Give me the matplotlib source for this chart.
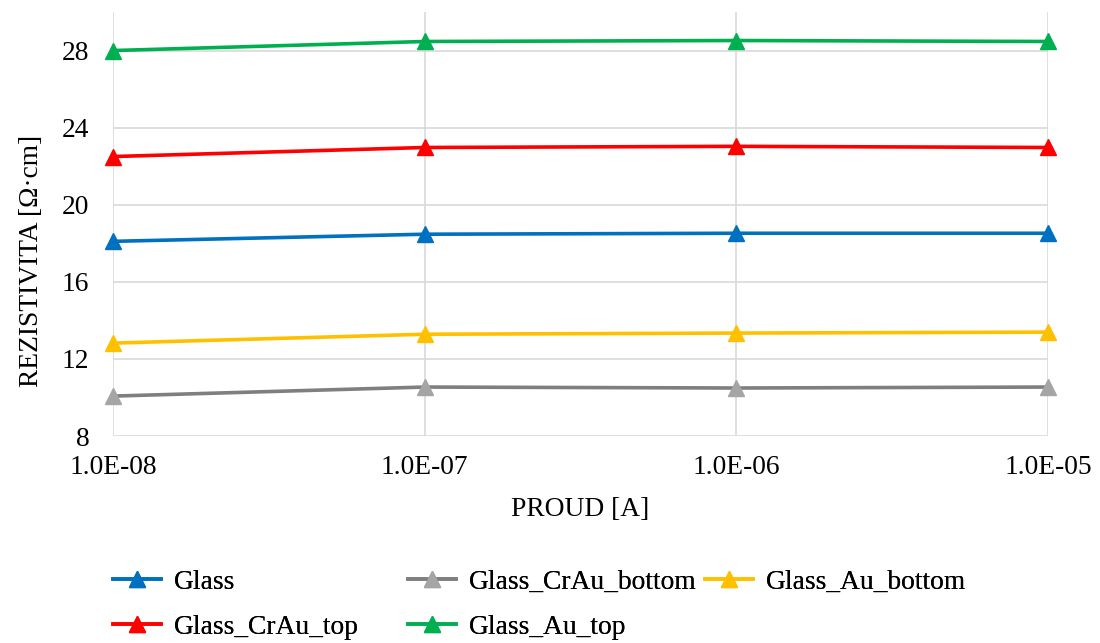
import matplotlib
import matplotlib.pyplot as plt
matplotlib.use('agg')

plt.rcParams['font.family'] = ['Liberation Serif', 'DejaVu Serif']

# measured currents and resistivities
current = [1e-8, 1e-7, 1e-6, 1e-5]
x_labels = ['1.0E-08', '1.0E-07', '1.0E-06', '1.0E-05']

glass = [18.1, 18.47, 18.52, 18.52]
glass_crau_bottom = [10.07, 10.54, 10.49, 10.54]
glass_au_bottom = [12.82, 13.28, 13.34, 13.39]
glass_crau_top = [22.5, 22.97, 23.03, 22.97]
glass_au_top = [28.0, 28.47, 28.52, 28.47]

y_ticks = [8, 12, 16, 20, 24, 28]

series = [
    ('Glass', glass, '#0070c0', '#0070c0'),
    ('Glass_CrAu_bottom', glass_crau_bottom, '#7f7f7f', '#a5a5a5'),
    ('Glass_Au_bottom', glass_au_bottom, '#ffc000', '#ffc000'),
    ('Glass_CrAu_top', glass_crau_top, '#ff0000', '#ff0000'),
    ('Glass_Au_top', glass_au_top, '#00b050', '#00b050'),
]

fs = 19.8
fig = plt.figure(figsize=(11, 6.43), dpi=100)
ax = fig.add_axes([113 / 1100, 1 - 436 / 643, (1048 - 113) / 1100, (436 - 12) / 643])

handles = []
for name, vals, lc, mc in series:
    ln, = ax.plot(current, vals, color=lc, linewidth=2.6, marker='^', markersize=11,
                  markerfacecolor=mc, markeredgecolor=mc, label=name, zorder=3,
                  clip_on=False)
    handles.append(ln)

ax.set_xscale('log')
ax.set_xlim(1e-8, 1e-5)
ax.set_ylim(8, 30)
ax.set_xticks(current)
ax.set_xticklabels(x_labels)
ax.minorticks_off()
ax.set_yticks(y_ticks)
ax.tick_params(axis='both', length=0, labelsize=fs)
ax.tick_params(axis='x', pad=14)
ax.tick_params(axis='y', pad=17)
ax.grid(True, color='#d9d9d9', linewidth=1.2)
ax.set_axisbelow(True)
for s in ax.spines.values():
    s.set_visible(False)

ax.set_xlabel('PROUD [A]', fontsize=fs, labelpad=12)
ax.set_ylabel('REZISTIVITA [Ω·cm]', fontsize=fs, labelpad=13, y=0.413)

# legend entries laid out like the spreadsheet legend grid
legend_pos = [(113, 582), (408, 582), (705, 582), (113, 627), (408, 627)]
for h, (px, py) in zip(handles, legend_pos):
    lg = fig.legend(handles=[h], loc='center left', bbox_to_anchor=(px / 1100, 1 - py / 643),
                    frameon=False, fontsize=fs, handlelength=1.75, handletextpad=0.45,
                    borderpad=0, borderaxespad=0)
    fig.add_artist(lg)

fig.savefig('out.png', dpi=100)
plt.close(fig)
